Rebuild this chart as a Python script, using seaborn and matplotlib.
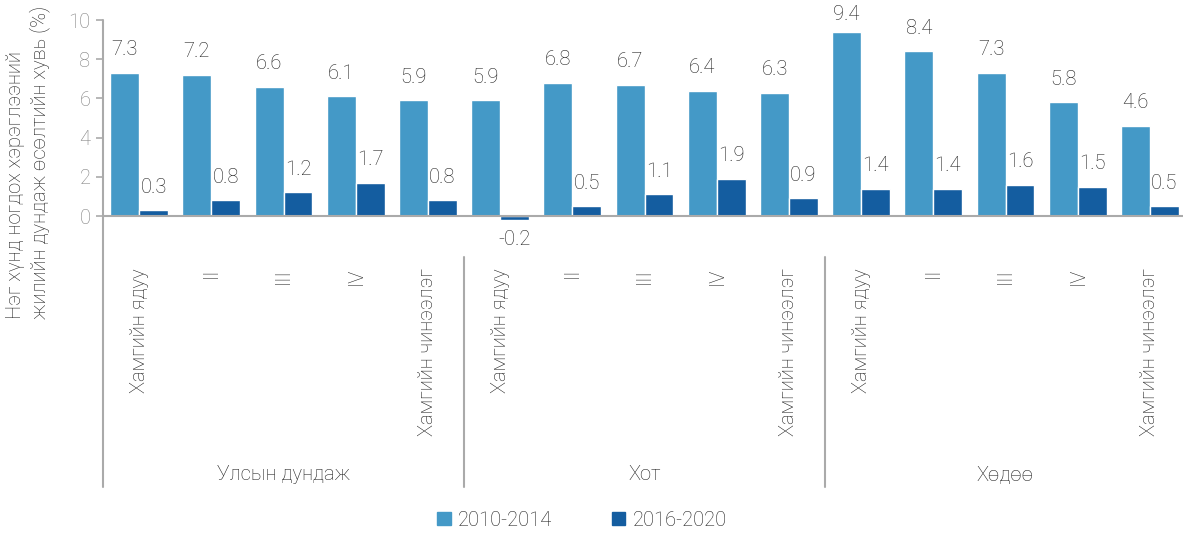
import seaborn as sns
import matplotlib.pyplot as plt
import matplotlib.transforms as mtransforms
from matplotlib.lines import Line2D
import pandas as pd

# data
groups = ["Улсын дундаж", "Хот", "Хөдөө"]
quintiles = ["Хамгийн ядуу", "II", "III", "IV", "Хамгийн чинээлэг"]
periods = ["2010-2014", "2016-2020"]
v2010 = [7.3, 7.2, 6.6, 6.1, 5.9,
         5.9, 6.8, 6.7, 6.4, 6.3,
         9.4, 8.4, 7.3, 5.8, 4.6]
v2016 = [0.3, 0.8, 1.2, 1.7, 0.8,
         -0.2, 0.5, 1.1, 1.9, 0.9,
         1.4, 1.4, 1.6, 1.5, 0.5]

rows = []
for i in range(len(v2010)):
    rows.append({"pos": i, "period": periods[0], "value": v2010[i]})
    rows.append({"pos": i, "period": periods[1], "value": v2016[i]})
df = pd.DataFrame(rows)

sns.set_style("white")
plt.rcParams["font.family"] = ["Roboto", "DejaVu Sans"]
plt.rcParams["font.weight"] = "light"
txt = "#1e1e1e"

W, H = 1183, 533
fig = plt.figure(figsize=(W / 100, H / 100), dpi=100)
# axes: left spine x=103, 10 at y=20, 0 at y=216
ymin, ymax = -0.5, 10
ppu = (216 - 20) / 10
bottom_px = 216 + (0 - ymin) * ppu
ax = fig.add_axes([103 / W, 1 - bottom_px / H, (1186 - 103) / W, (bottom_px - 20) / H])

colors = ["#4499C7", "#145DA0"]
sns.barplot(data=df, x="pos", y="value", hue="period", palette=colors,
            width=0.8, saturation=1, ax=ax, legend=False)

ax.set_ylim(ymin, ymax)
ax.set_xlim(-0.5, 14.5)
for s in ax.spines.values():
    s.set_visible(False)
ax.axhline(0, color="#AAAAAA", lw=1.5, zorder=3)

ax.set_yticks([0, 2, 4, 6, 8, 10])
ax.tick_params(axis="y", left=True, length=5, color="#AAAAAA", width=1.2,
               labelsize=14.5, labelcolor="#7f7f7f", pad=4)
ax.set_xticks(range(15))
ax.set_xticklabels(quintiles * 3, rotation=90, fontsize=14.5, color=txt)
ax.tick_params(axis="x", length=0, pad=(268 - bottom_px) * 0.72)
ax.set_xlabel("")
ax.set_ylabel("")

# value labels (kept inside the chart area like the original)
top_cap = (216 - 15) / ppu
for cont in ax.containers:
    for bar in cont:
        h = bar.get_height()
        xc = bar.get_x() + bar.get_width() / 2
        if h >= 0:
            ly = min(h + 23 / ppu, top_cap)
        else:
            ly = h - 20 / ppu
        ax.text(xc, ly, f"{h:.1f}", ha="center", va="center", fontsize=14.5,
                color=txt, clip_on=False)

# category axis lines
tr = mtransforms.blended_transform_factory(ax.transData, fig.transFigure)
fig.add_artist(Line2D([-0.5, -0.5], [1 - 20 / H, 1 - 487 / H], transform=tr,
                      color="#AAAAAA", lw=1.5))
for xs in [4.5, 9.5]:
    fig.add_artist(Line2D([xs, xs], [1 - 257 / H, 1 - 487 / H], transform=tr,
                          color="#AAAAAA", lw=1.5))
for k, g in enumerate(groups):
    fig.text(2 + 5 * k, 1 - 475 / H, g, transform=tr, ha="center", va="center",
             fontsize=14.5, color=txt)

fig.text(28 / W, 1 - 162 / H,
         "Нэг хүнд ногдох хэрэглээний\nжилийн дундаж өсөлтийн хувь (%)",
         rotation=90, ha="center", va="center", multialignment="left",
         fontsize=14.5, color=txt)

handles = [plt.Rectangle((0, 0), 1, 1, color=c) for c in colors]
fig.legend(handles, periods, loc="center", bbox_to_anchor=(582 / W, 1 - 520 / H),
           ncol=2, frameon=False, fontsize=14.5, handlelength=0.65, handleheight=0.65,
           columnspacing=3, handletextpad=0.35, labelcolor=txt)

fig.savefig("out.png", dpi=100)
